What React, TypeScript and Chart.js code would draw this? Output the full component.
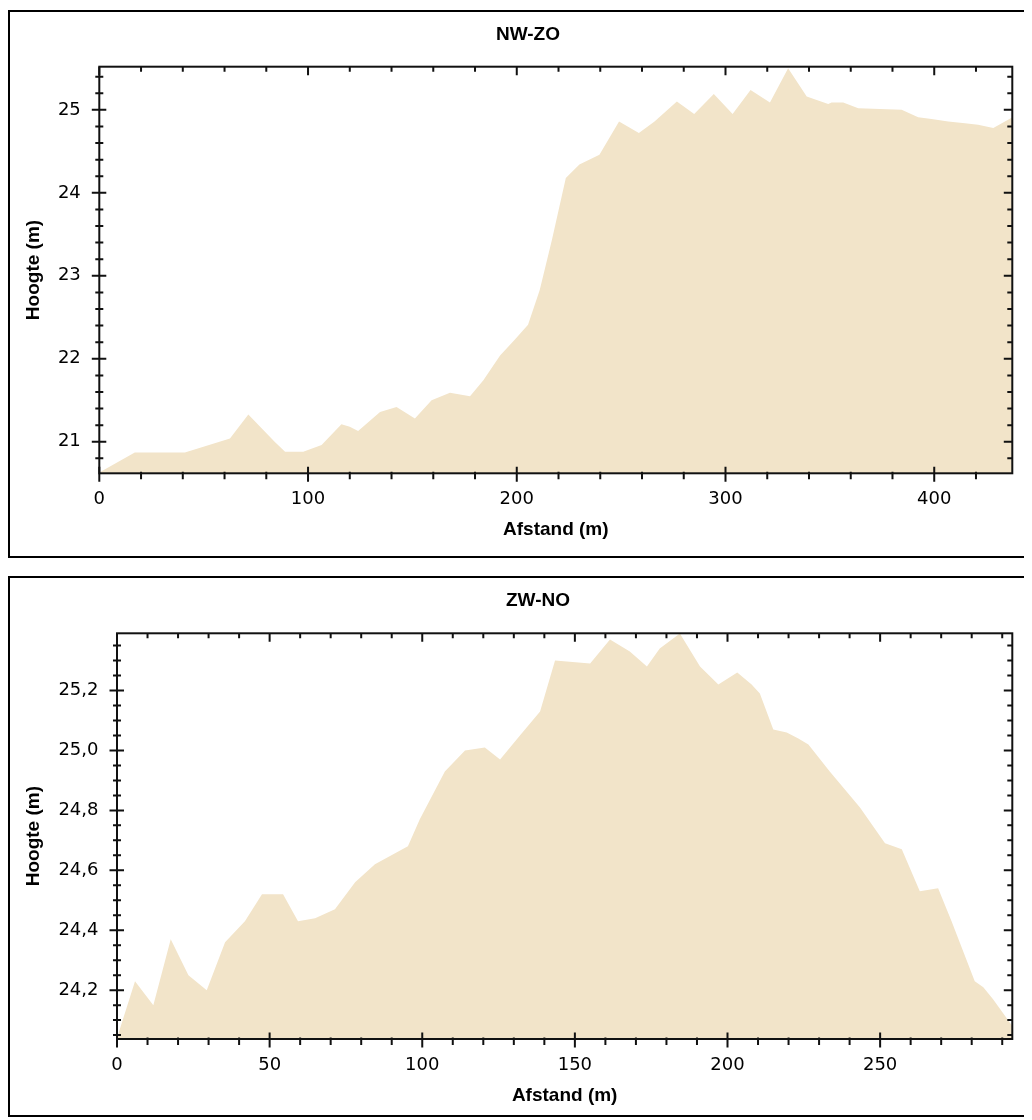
import React, { useEffect, useRef } from 'react';
import { Chart, registerables } from 'chart.js';

Chart.register(...registerables);

// ---- Data: NW-ZO profile ----
const nwzoAfstand = [0, 17, 41, 62.6, 71.4, 84, 89, 97.7, 106.5, 116, 120, 124, 134.5, 142.4, 151.2, 159.2, 168, 177.6, 184, 192, 199, 205.4, 211, 216.8, 223.5, 230, 239.6, 249, 258.5, 266, 276.7, 285, 294.4, 303.4, 312, 321.3, 330, 338.9, 343.7, 349.2, 350.8, 356.4, 363.6, 374, 384.4, 392.3, 398.7, 406.7, 414.7, 421, 428.3, 437.5];
const nwzoHoogte = [20.63, 20.87, 20.87, 21.04, 21.33, 21.0, 20.88, 20.88, 20.96, 21.21, 21.18, 21.13, 21.36, 21.42, 21.28, 21.5, 21.59, 21.55, 21.74, 22.04, 22.23, 22.41, 22.83, 23.43, 24.18, 24.34, 24.46, 24.86, 24.72, 24.86, 25.1, 24.95, 25.19, 24.95, 25.24, 25.09, 25.5, 25.16, 25.12, 25.07, 25.09, 25.09, 25.02, 25.01, 25.0, 24.91, 24.89, 24.86, 24.84, 24.82, 24.78, 24.91];
const nwzoXTicks = [0, 100, 200, 300, 400];
const nwzoYTicks = [21, 22, 23, 24, 25];

// ---- Data: ZW-NO profile ----
const zwnoAfstand = [0, 5.9, 11.9, 17.6, 23.4, 29.4, 35.4, 41.9, 47.5, 54.4, 59.3, 64.9, 71.4, 78, 84.5, 95.3, 99.2, 107.4, 114, 120.5, 125.5, 132, 138.6, 143.5, 155, 161.5, 168, 173.6, 177.8, 184.4, 191, 197, 203.2, 207.9, 210.6, 215, 219.4, 223.2, 226.5, 233.5, 243.4, 251.6, 257.1, 263, 269, 273.4, 281, 283.8, 287, 293.3];
const zwnoHoogte = [24.04, 24.23, 24.15, 24.37, 24.25, 24.2, 24.36, 24.43, 24.52, 24.52, 24.43, 24.44, 24.47, 24.56, 24.62, 24.68, 24.77, 24.93, 25.0, 25.01, 24.97, 25.05, 25.13, 25.3, 25.29, 25.37, 25.33, 25.28, 25.34, 25.39, 25.28, 25.22, 25.26, 25.22, 25.19, 25.07, 25.06, 25.04, 25.02, 24.93, 24.81, 24.69, 24.67, 24.53, 24.54, 24.43, 24.23, 24.21, 24.17, 24.08];
const zwnoXTicks = [0, 50, 100, 150, 200, 250];
const zwnoYTicks = [24.2, 24.4, 24.6, 24.8, 25.0, 25.2];

const FILL = 'rgb(242,228,201)';
const INK = '#111';
const TICK_FONT = { family: 'DejaVu Sans', size: 18, lineHeight: 1.2 };
const TITLE_FONT = { family: 'Liberation Sans', size: 19, weight: 'bold' as const, lineHeight: 1.2 };

type PanelSpec = {
  title: string;
  afstand: number[];
  hoogte: number[];
  xTicks: number[];
  yTicks: number[];
  xMax: number;
  yMin: number;
  yMax: number;
  xMinorStep: number;
  yMinorStep: number;
  yLabel: (v: number) => string;
  canvasW: number;
  canvasH: number;
  leftW: number;
  rightW: number;
  bottomH: number;
  titlePadTop: number;
  titlePadBottom: number;
  xTitlePadBottom: number;
};

function minorValues(min: number, max: number, step: number): number[] {
  const out: number[] = [];
  const start = Math.ceil(min / step - 1e-6) * step;
  for (let i = 0; ; i++) {
    const v = Math.round((start + i * step) * 10000) / 10000;
    if (v > max + 1e-9) break;
    out.push(v);
  }
  return out;
}

const axisFrame = {
  id: 'axisFrame',
  afterDraw(chart: any, _args: any, opts: any) {
    const { ctx, chartArea: a, scales } = chart;
    const xs = scales.x;
    const ys = scales.y;
    ctx.save();
    ctx.strokeStyle = INK;
    ctx.lineWidth = 2;
    ctx.beginPath();
    const seg = (x1: number, y1: number, x2: number, y2: number) => {
      ctx.moveTo(x1, y1);
      ctx.lineTo(x2, y2);
    };
    const isMajor = (list: number[], v: number, step: number) => list.some((t) => Math.abs(t - v) < step / 10);
    for (const v of minorValues(xs.min, xs.max, opts.xMinorStep)) {
      const px = xs.getPixelForValue(v);
      const major = isMajor(opts.xTicks, v, opts.xMinorStep);
      seg(px, a.bottom - (major ? 6.5 : 1.5), px, a.bottom + (major ? 8.5 : 6));
      seg(px, a.top, px, a.top + (major ? 8.5 : 5));
    }
    for (const v of minorValues(ys.min, ys.max, opts.yMinorStep)) {
      const py = ys.getPixelForValue(v);
      const major = isMajor(opts.yTicks, v, opts.yMinorStep);
      seg(a.left - (major ? 7.5 : 4), py, a.left + (major ? 7 : 4), py);
      seg(a.right - (major ? 8.5 : 5), py, a.right, py);
    }
    ctx.stroke();
    ctx.strokeRect(a.left, a.top, a.right - a.left, a.bottom - a.top);
    ctx.restore();
  },
};

function ProfileChart({ spec, top }: { spec: PanelSpec; top: number }) {
  const ref = useRef<HTMLCanvasElement | null>(null);
  useEffect(() => {
    if (!ref.current) return;
    const points = spec.afstand.map((d, i) => ({ x: d, y: spec.hoogte[i] }));
    const chart = new Chart(ref.current, {
      type: 'line',
      data: {
        datasets: [
          {
            data: points,
            fill: 'start',
            backgroundColor: FILL,
            borderWidth: 0,
            borderColor: 'rgba(0,0,0,0)',
            pointRadius: 0,
            tension: 0,
          },
        ],
      },
      options: {
        animation: false,
        responsive: false,
        devicePixelRatio: 1,
        layout: { padding: 0 },
        plugins: {
          legend: { display: false },
          tooltip: { enabled: false },
          title: {
            display: true,
            text: spec.title,
            color: '#000',
            font: TITLE_FONT,
            padding: { top: spec.titlePadTop, bottom: spec.titlePadBottom },
          },
          axisFrame: {
            xTicks: spec.xTicks,
            yTicks: spec.yTicks,
            xMinorStep: spec.xMinorStep,
            yMinorStep: spec.yMinorStep,
          },
        } as any,
        scales: {
          x: {
            type: 'linear',
            min: 0,
            max: spec.xMax,
            afterBuildTicks: (s: any) => {
              s.ticks = spec.xTicks.map((v) => ({ value: v }));
            },
            afterFit: (s: any) => {
              s.height = spec.bottomH;
            },
            ticks: {
              color: '#000',
              font: TICK_FONT,
              padding: 15.3,
              maxRotation: 0,
              autoSkip: false,
              callback: (v: any) => String(v),
            },
            grid: { display: false, drawTicks: false },
            border: { display: false },
            title: {
              display: true,
              text: 'Afstand (m)',
              color: '#000',
              font: TITLE_FONT,
              padding: { top: 0, bottom: spec.xTitlePadBottom },
            },
          },
          y: {
            type: 'linear',
            position: 'left',
            min: spec.yMin,
            max: spec.yMax,
            afterBuildTicks: (s: any) => {
              s.ticks = spec.yTicks.map((v) => ({ value: v }));
            },
            afterFit: (s: any) => {
              s.width = spec.leftW;
            },
            ticks: {
              color: '#000',
              font: TICK_FONT,
              padding: 18.5,
              autoSkip: false,
              callback: (v: any) => spec.yLabel(Number(v)),
            },
            grid: { display: false, drawTicks: false },
            border: { display: false },
            title: {
              display: true,
              text: 'Hoogte (m)',
              color: '#000',
              font: TITLE_FONT,
              padding: { top: 14.1, bottom: 0 },
            },
          },
          y2: {
            type: 'linear',
            position: 'right',
            display: true,
            ticks: { display: false },
            grid: { display: false, drawTicks: false },
            border: { display: false },
            afterFit: (s: any) => {
              s.width = spec.rightW;
            },
          },
        } as any,
      },
      plugins: [axisFrame],
    });
    return () => chart.destroy();
  }, [spec]);

  return (
    <canvas
      ref={ref}
      width={spec.canvasW}
      height={spec.canvasH}
      style={{ position: 'absolute', left: 0, top, width: spec.canvasW, height: spec.canvasH, display: 'block' }}
    />
  );
}

const nwzoSpec: PanelSpec = {
  title: 'NW-ZO',
  afstand: nwzoAfstand,
  hoogte: nwzoHoogte,
  xTicks: nwzoXTicks,
  yTicks: nwzoYTicks,
  xMax: 437.4,
  yMin: 20.62,
  yMax: 25.52,
  xMinorStep: 20,
  yMinorStep: 0.2,
  yLabel: (v) => String(v),
  canvasW: 1040,
  canvasH: 558,
  leftW: 91.3,
  rightW: 35.7,
  bottomH: 92.7,
  titlePadTop: 15.6,
  titlePadBottom: 20.3,
  xTitlePadBottom: 24.6,
};

const zwnoSpec: PanelSpec = {
  title: 'ZW-NO',
  afstand: zwnoAfstand,
  hoogte: zwnoHoogte,
  xTicks: zwnoXTicks,
  yTicks: zwnoYTicks,
  xMax: 293.3,
  yMin: 24.037,
  yMax: 25.391,
  xMinorStep: 10,
  yMinorStep: 0.05,
  yLabel: (v) => v.toFixed(1).replace('.', ','),
  canvasW: 1060,
  canvasH: 554,
  leftW: 109,
  rightW: 55.7,
  bottomH: 81,
  titlePadTop: 23.6,
  titlePadBottom: 20.9,
  xTitlePadBottom: 12.9,
};

export default function App() {
  const border: React.CSSProperties = {
    position: 'absolute',
    left: 0,
    width: 1040,
    border: '2px solid #000',
    boxSizing: 'border-box',
    pointerEvents: 'none',
  };
  return (
    <div style={{ position: 'relative', width: 1024, height: 1112, overflow: 'hidden', background: '#fff' }}>
      <ProfileChart spec={nwzoSpec} top={0} />
      <ProfileChart spec={zwnoSpec} top={558} />
      <div style={{ ...border, top: 2, height: 548 }} />
      <div style={{ ...border, top: 568, height: 541 }} />
    </div>
  );
}
